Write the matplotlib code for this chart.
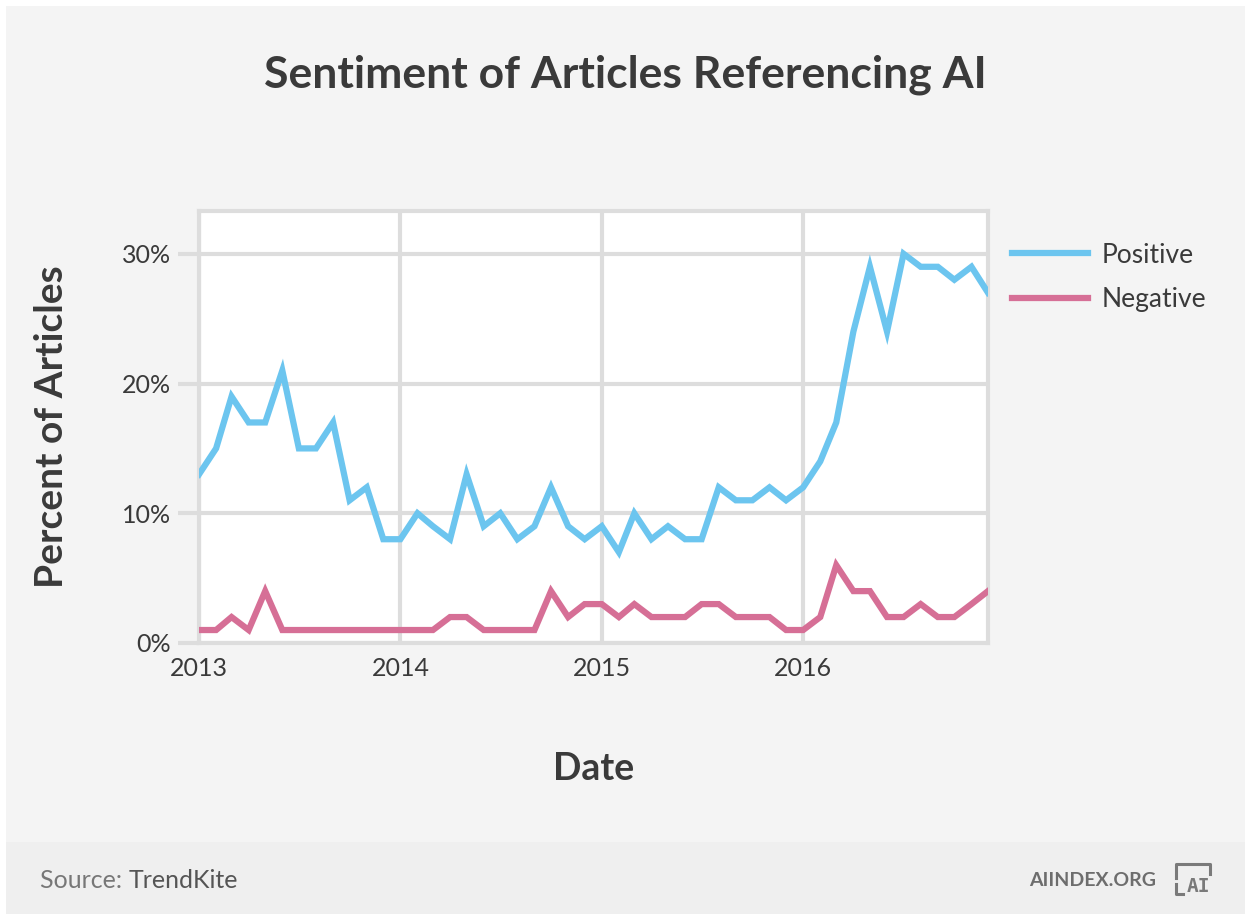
import matplotlib
matplotlib.use("Agg")
import matplotlib.pyplot as plt
import matplotlib.dates as mdates
import pandas as pd
from matplotlib.patches import Rectangle
from matplotlib.lines import Line2D

# Monthly share of articles, Jan 2013 - Dec 2016
months = pd.date_range("2013-01-01", "2016-12-01", freq="MS")
positive = [13, 15, 19, 17, 17, 21, 15, 15, 17, 11, 12, 8,
            8, 10, 9, 8, 13, 9, 10, 8, 9, 12, 9, 8,
            9, 7, 10, 8, 9, 8, 8, 12, 11, 11, 12, 11,
            12, 14, 17, 24, 29, 24, 30, 29, 29, 28, 29, 27]
negative = [1, 1, 2, 1, 4, 1, 1, 1, 1, 1, 1, 1,
            1, 1, 1, 2, 2, 1, 1, 1, 1, 4, 2, 3,
            3, 2, 3, 2, 2, 2, 3, 3, 2, 2, 2, 1,
            1, 2, 6, 4, 4, 2, 2, 3, 2, 2, 3, 4]
y_ticks = [0, 10, 20, 30]
x_ticks = ["2013-01-01", "2014-01-01", "2015-01-01", "2016-01-01"]

plt.rcParams['font.family'] = ['Lato', 'DejaVu Sans']
TEXT = "#3a3a3a"
GRID = "#dddddd"

fig = plt.figure(figsize=(12.51, 9.14), dpi=100, facecolor="white")

# background panels
fig.patches.append(Rectangle((6 / 1251, 0), 1239 / 1251, 908 / 914,
                             transform=fig.transFigure, facecolor="#f4f4f4",
                             edgecolor="none", zorder=-3))
fig.patches.append(Rectangle((6 / 1251, 0), 1239 / 1251, 72 / 914,
                             transform=fig.transFigure, facecolor="#efefef",
                             edgecolor="none", zorder=-2))

ax = fig.add_axes([199 / 1251, 1 - 643 / 914, 789 / 1251, 432 / 914])
ax.set_facecolor("white")

ax.plot(months, positive, color="#6cc5ef", lw=4.5, label="Positive",
        solid_joinstyle="miter", zorder=3)
ax.plot(months, negative, color="#d66f96", lw=4.5, label="Negative",
        solid_joinstyle="miter", zorder=3)

ax.set_xlim(pd.Timestamp("2013-01-01"), pd.Timestamp("2016-12-01"))
ax.set_ylim(0, 33.3)
ax.set_yticks(y_ticks)
ax.set_yticklabels([f"{v}%" for v in y_ticks])
ax.set_xticks([pd.Timestamp(t) for t in x_ticks])
ax.xaxis.set_major_formatter(mdates.DateFormatter("%Y"))

ax.grid(True, color=GRID, lw=3)
ax.set_axisbelow(True)
for s in ax.spines.values():
    s.set_color(GRID)
    s.set_linewidth(3)
ax.tick_params(axis="y", length=15, width=3, color=GRID, pad=5,
               labelsize=18, labelcolor=TEXT)
ax.tick_params(axis="x", length=0, pad=10, labelsize=18, labelcolor=TEXT)

ax.set_xlabel("Date", fontsize=27, fontweight="bold", color=TEXT, labelpad=52)
ax.set_ylabel("Percent of Articles", fontsize=28, fontweight="bold",
              color=TEXT, labelpad=38)

fig.text(0.5, 1 - 75 / 914, "Sentiment of Articles Referencing AI",
         ha="center", va="center", fontsize=32, fontweight="bold", color=TEXT)

ax.legend(loc="upper left", bbox_to_anchor=(1.0, 0.982), frameon=False,
          fontsize=19, handlelength=2.9, labelspacing=0.75,
          handletextpad=0.5, labelcolor=TEXT)

# footer
fy_src = 1 - 880 / 914
src = fig.text(40 / 1251, fy_src, "Source: ", fontsize=18, color="#777777",
               va="center", ha="left")
fig.canvas.draw()
bb = src.get_window_extent(fig.canvas.get_renderer())
fig.text(bb.x1 / fig.bbox.width, fy_src, "TrendKite", fontsize=18,
         color="#555555", va="center", ha="left")
fig.text(1156 / 1251, fy_src, "AIINDEX.ORG", fontsize=14,
         fontweight="bold", color="#6d6d6d", va="center", ha="right")
# small logo
fx = lambda px: px / 1251
fy = lambda py: 1 - py / 914
logo = "#7a7a7a"
fig.add_artist(Line2D([fx(1176), fx(1176), fx(1210), fx(1210)],
                      [fy(878), fy(864), fy(864), fy(874)],
                      transform=fig.transFigure, color=logo, lw=2.2))
fig.add_artist(Line2D([fx(1176), fx(1176), fx(1183)],
                      [fy(884), fy(894), fy(894)],
                      transform=fig.transFigure, color=logo, lw=2.2))
fig.text(fx(1198), fy(886), "AI", family="DejaVu Sans Mono", fontsize=14,
         fontweight="bold", color=logo, ha="center", va="center")

fig.savefig("out.png", dpi=100, facecolor=fig.get_facecolor())
